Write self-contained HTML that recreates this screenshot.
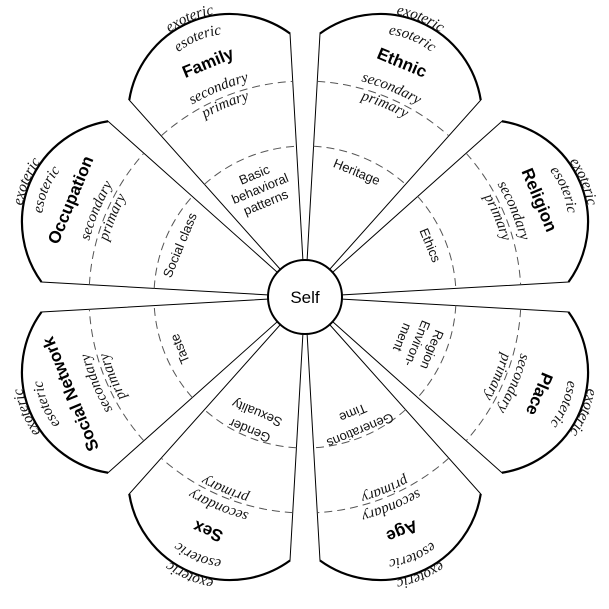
<!DOCTYPE html>
<html><head><meta charset="utf-8"><style>
html,body{margin:0;padding:0;background:#fff}
svg{display:block}
.ital{font-family:"Liberation Serif",serif;font-style:italic;font-size:15px;fill:#111}
.name{font-family:"Liberation Sans",sans-serif;font-weight:bold;font-size:17px;fill:#000}
.lab{font-family:"Liberation Sans",sans-serif;font-size:13px;fill:#111}
</style></head><body>
<svg width="609" height="609" viewBox="0 0 609 609" xmlns="http://www.w3.org/2000/svg">
<defs>
<path id="pEx" d="M202,101 A103,103 0 0,1 408,101"/>
<path id="pEs" d="M223,101 A82,82 0 0,1 387,101"/>
<path id="pSec" d="M82,297 A223,223 0 0,1 528,297"/>
<path id="pPri" d="M100,297 A205,205 0 0,1 510,297"/>
<g id="shape">
<path d="M305,297 L218,47.8 A102,102 0 0,1 392,47.8 Z" fill="#fff" stroke="#000" stroke-width="1"/>
<path d="M218,47.8 A102,102 0 0,1 392,47.8" fill="none" stroke="#000" stroke-width="2.2"/>
<path d="M233.8,93.1 A216,216 0 0,1 376.2,93.1" fill="none" stroke="#555" stroke-width="1" stroke-dasharray="8,5"/>
<path d="M255.2,154.4 A151,151 0 0,1 354.8,154.4" fill="none" stroke="#555" stroke-width="1" stroke-dasharray="8,5"/>
<text class="ital" text-anchor="middle"><textPath href="#pEx" startOffset="50%">exoteric</textPath></text>
<text class="ital" text-anchor="middle"><textPath href="#pEs" startOffset="50%">esoteric</textPath></text>
<text class="ital" text-anchor="middle"><textPath href="#pSec" startOffset="50%">secondary</textPath></text>
<text class="ital" text-anchor="middle"><textPath href="#pPri" startOffset="50%">primary</textPath></text>
</g>
</defs>

<g transform="rotate(-22.5 305 297)">
<use href="#shape"/>
<text class="name" x="305" y="49" text-anchor="middle">Family</text>
<text class="lab" text-anchor="middle"><tspan x="305" y="169">Basic</tspan><tspan x="305" y="184">behavioral</tspan><tspan x="305" y="199">patterns</tspan></text>
</g>
<g transform="rotate(22.5 305 297)">
<use href="#shape"/>
<text class="name" x="305" y="49" text-anchor="middle">Ethnic</text>
<text class="lab" x="305" y="166" text-anchor="middle">Heritage</text>
</g>
<g transform="rotate(67.5 305 297)">
<use href="#shape"/>
<text class="name" x="305" y="49" text-anchor="middle">Religion</text>
<text class="lab" x="305" y="166" text-anchor="middle">Ethics</text>
</g>
<g transform="rotate(112.5 305 297)">
<use href="#shape"/>
<text class="name" x="305" y="49" text-anchor="middle">Place</text>
<text class="lab" text-anchor="middle"><tspan x="305" y="164">Region</tspan><tspan x="305" y="180">Environ-</tspan><tspan x="305" y="196">ment</tspan></text>
</g>
<g transform="rotate(157.5 305 297)">
<use href="#shape"/>
<text class="name" x="305" y="49" text-anchor="middle">Age</text>
<text class="lab" text-anchor="middle"><tspan x="305" y="157">Generations</tspan><tspan x="305" y="176">Time</tspan></text>
</g>
<g transform="rotate(202.5 305 297)">
<use href="#shape"/>
<text class="name" x="305" y="49" text-anchor="middle">Sex</text>
<text class="lab" text-anchor="middle"><tspan x="305" y="157">Gender</tspan><tspan x="305" y="176">Sexuality</tspan></text>
</g>
<g transform="rotate(247.5 305 297)">
<use href="#shape"/>
<text class="name" x="305" y="49" text-anchor="middle">Social Network</text>
<text class="lab" x="305" y="166" text-anchor="middle">Taste</text>
</g>
<g transform="rotate(292.5 305 297)">
<use href="#shape"/>
<text class="name" x="305" y="49" text-anchor="middle">Occupation</text>
<text class="lab" x="305" y="166" text-anchor="middle">Social class</text>
</g>

<circle cx="305" cy="297" r="37" fill="#fff" stroke="#000" stroke-width="2"/>
<text x="305" y="303" text-anchor="middle" font-family="Liberation Sans, sans-serif" font-size="17">Self</text>
</svg>
</body></html>
